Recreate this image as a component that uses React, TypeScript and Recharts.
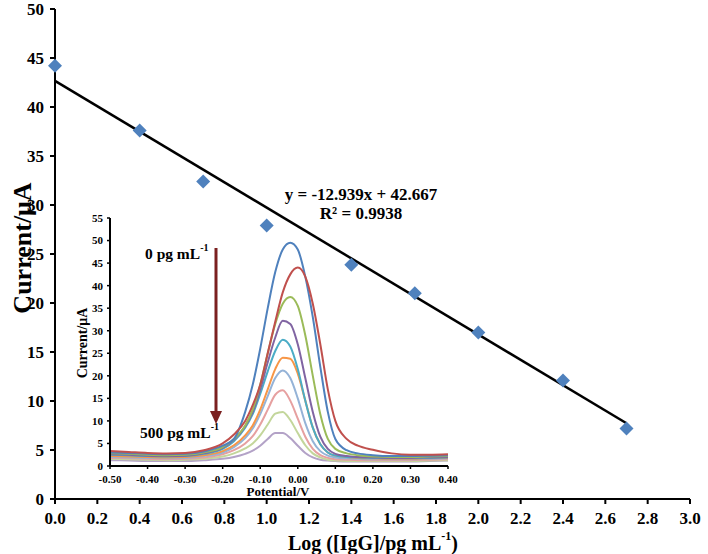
import React from 'react';
import { ScatterChart, Scatter, XAxis, YAxis, LineChart, Line } from 'recharts';

// ---------- main calibration data ----------
const logConc = [0, 0.4, 0.7, 1.0, 1.4, 1.7, 2.0, 2.4, 2.7];
const currents = [44.2, 37.6, 32.4, 27.9, 23.9, 21.0, 17.0, 12.1, 7.2];
const mainXTicks = [0, 0.2, 0.4, 0.6, 0.8, 1.0, 1.2, 1.4, 1.6, 1.8, 2.0, 2.2, 2.4, 2.6, 2.8, 3.0];
const mainYTicks = [0, 5, 10, 15, 20, 25, 30, 35, 40, 45, 50];
const slope = -12.939;
const intercept = 42.667;
const trendEnds = [0, 2.7];

// ---------- inset DPV data ----------
const potentials = [-0.5, -0.45, -0.4, -0.35, -0.3, -0.25, -0.2, -0.17, -0.14, -0.12, -0.1, -0.08, -0.06, -0.04, -0.02, 0.0, 0.02, 0.04, 0.06, 0.08, 0.1, 0.13, 0.16, 0.2, 0.25, 0.3, 0.35, 0.4];
const curveBlue = [3.0, 2.9, 2.7, 2.6, 2.7, 3.2, 4.5, 6.0, 12.0, 18.0, 26.0, 35.0, 43.0, 48.0, 49.5, 48.0, 42.0, 33.0, 22.0, 12.0, 6.0, 3.5, 2.8, 2.4, 2.2, 2.2, 2.3, 2.4];
const curveRed = [3.3, 3.1, 2.9, 2.8, 2.9, 3.5, 5.0, 7.0, 10.0, 13.5, 18.0, 25.0, 32.0, 38.5, 42.5, 44.0, 42.0, 36.0, 27.0, 17.0, 10.0, 6.0, 4.5, 3.6, 2.8, 2.5, 2.5, 2.6];
const curveGreen = [2.8, 2.7, 2.5, 2.4, 2.5, 3.0, 4.2, 6.0, 9.0, 12.5, 18.0, 25.0, 31.5, 36.0, 37.5, 35.5, 29.0, 20.0, 11.5, 6.0, 3.8, 2.8, 2.4, 2.1, 2.0, 2.0, 2.1, 2.2];
const curvePurple = [2.6, 2.5, 2.3, 2.2, 2.3, 2.8, 4.0, 5.8, 8.8, 12.0, 17.0, 23.0, 28.5, 32.2, 31.5, 27.0, 19.5, 12.0, 6.5, 3.8, 2.7, 2.2, 2.0, 1.9, 1.8, 1.8, 1.9, 2.0];
const curveTeal = [2.5, 2.4, 2.2, 2.1, 2.2, 2.7, 3.8, 5.5, 8.5, 11.5, 16.0, 21.0, 25.5, 28.0, 26.5, 21.5, 14.5, 8.5, 4.8, 3.0, 2.3, 2.0, 1.9, 1.8, 1.7, 1.7, 1.8, 1.9];
const curveOrange = [2.2, 2.1, 2.0, 1.9, 2.0, 2.4, 3.3, 4.6, 6.8, 9.0, 12.5, 17.0, 21.5, 24.0, 23.8, 20.5, 14.5, 8.5, 4.8, 3.0, 2.3, 2.0, 1.8, 1.7, 1.6, 1.6, 1.7, 1.8];
const curveLightBlue = [2.0, 1.9, 1.8, 1.7, 1.8, 2.2, 3.0, 4.2, 6.2, 8.3, 11.5, 15.5, 19.5, 21.2, 19.5, 15.0, 9.5, 5.5, 3.3, 2.3, 1.9, 1.7, 1.6, 1.5, 1.5, 1.5, 1.6, 1.7];
const curvePink = [1.8, 1.7, 1.6, 1.5, 1.6, 1.9, 2.6, 3.5, 5.0, 6.6, 9.2, 12.5, 15.8, 16.8, 14.5, 10.5, 6.5, 3.8, 2.4, 1.8, 1.5, 1.4, 1.3, 1.3, 1.3, 1.3, 1.4, 1.5];
const curveLightGreen = [1.6, 1.5, 1.4, 1.3, 1.4, 1.6, 2.1, 2.8, 3.9, 5.0, 6.8, 9.2, 11.6, 12.0, 10.2, 7.3, 4.6, 2.8, 1.9, 1.4, 1.2, 1.1, 1.1, 1.1, 1.1, 1.1, 1.2, 1.3];
const curveLavender = [1.3, 1.2, 1.1, 1.1, 1.1, 1.3, 1.6, 2.0, 2.7, 3.4, 4.5, 6.0, 7.3, 7.3, 6.2, 4.5, 2.9, 1.9, 1.4, 1.2, 1.1, 1.0, 1.0, 1.0, 1.0, 1.0, 1.1, 1.2];
const insetXTicks = [-0.5, -0.4, -0.3, -0.2, -0.1, 0.0, 0.1, 0.2, 0.3, 0.4];
const insetYTicks = [0, 5, 10, 15, 20, 25, 30, 35, 40, 45, 50, 55];

const curves = [
  { key: 'lavender', values: curveLavender, color: '#b3a2c7' },
  { key: 'lightgreen', values: curveLightGreen, color: '#c3d69b' },
  { key: 'pink', values: curvePink, color: '#e6a0a0' },
  { key: 'lightblue', values: curveLightBlue, color: '#95b3d7' },
  { key: 'orange', values: curveOrange, color: '#f79646' },
  { key: 'teal', values: curveTeal, color: '#4bacc6' },
  { key: 'purple', values: curvePurple, color: '#8064a2' },
  { key: 'green', values: curveGreen, color: '#9bbb59' },
  { key: 'blue', values: curveBlue, color: '#4f81bd' },
  { key: 'red', values: curveRed, color: '#c0504d' },
];

const mainData = logConc.map((x, i) => ({ x, y: currents[i] }));
const trendData = trendEnds.map((x) => ({ x, y: slope * x + intercept }));
const insetData = potentials.map((p, i) => {
  const row: Record<string, number> = { p };
  curves.forEach((c) => { row[c.key] = c.values[i]; });
  return row;
});

const FONT = "'Liberation Serif', 'Times New Roman', serif";

const Diamond = (props: any) => {
  const { cx, cy } = props;
  if (cx == null || cy == null) return <g />;
  const r = 7;
  return <polygon points={`${cx},${cy - r} ${cx + r},${cy} ${cx},${cy + r} ${cx - r},${cy}`} fill="#4f81bd" />;
};

export default function App() {
  return (
    <div style={{ position: 'absolute', left: 0, top: 0, width: 708, height: 554, background: '#fff', overflow: 'hidden' }}>
      <div style={{ position: 'absolute', left: 0, top: 0 }}>
        <ScatterChart width={708} height={554} margin={{ top: 9, right: 18, bottom: 0, left: 0 }}>
          <XAxis
            type="number"
            dataKey="x"
            domain={[0, 3]}
            ticks={mainXTicks}
            tickFormatter={(v: number) => v.toFixed(1)}
            height={55}
            axisLine={{ stroke: '#000', strokeWidth: 2 }}
            tickLine={{ stroke: '#000', strokeWidth: 2 }}
            tickSize={5}
            tickMargin={8}
            tick={{ fill: '#000', fontSize: 17, fontWeight: 'bold', fontFamily: FONT }}
            interval={0}
          />
          <YAxis
            type="number"
            dataKey="y"
            domain={[0, 50]}
            ticks={mainYTicks}
            width={55}
            axisLine={{ stroke: '#000', strokeWidth: 2 }}
            tickLine={{ stroke: '#000', strokeWidth: 2 }}
            tickSize={5}
            tickMargin={6}
            tick={{ fill: '#000', fontSize: 17, fontWeight: 'bold', fontFamily: FONT }}
            interval={0}
          />
          <Scatter data={trendData} line={{ stroke: '#000', strokeWidth: 2.5 }} lineType="joint" shape={() => <g />} isAnimationActive={false} />
          <Scatter data={mainData} shape={Diamond} isAnimationActive={false} />
        </ScatterChart>
      </div>

      <div style={{ position: 'absolute', left: 60, top: 205 }}>
        <LineChart width={410} height={300} data={insetData} margin={{ top: 13, right: 22, bottom: 0, left: 0 }}>
          <XAxis
            type="number"
            dataKey="p"
            domain={[-0.5, 0.4]}
            ticks={insetXTicks}
            tickFormatter={(v: number) => v.toFixed(2)}
            height={39}
            axisLine={{ stroke: '#000', strokeWidth: 2 }}
            tickLine={{ stroke: '#000', strokeWidth: 1.5 }}
            tickSize={3}
            tickMargin={6}
            tick={{ fill: '#000', fontSize: 11, fontWeight: 'bold', fontFamily: FONT }}
            interval={0}
          />
          <YAxis
            type="number"
            domain={[0, 55]}
            ticks={insetYTicks}
            width={50}
            axisLine={{ stroke: '#000', strokeWidth: 2 }}
            tickLine={{ stroke: '#000', strokeWidth: 1.5 }}
            tickSize={3}
            tickMargin={4}
            tick={{ fill: '#000', fontSize: 11, fontWeight: 'bold', fontFamily: FONT }}
            interval={0}
          />
          {curves.map((c) => (
            <Line key={c.key} type="monotone" dataKey={c.key} stroke={c.color} strokeWidth={2} dot={false} isAnimationActive={false} />
          ))}
        </LineChart>
      </div>

      <svg width={708} height={554} style={{ position: 'absolute', left: 0, top: 0, pointerEvents: 'none' }} fontFamily={FONT} fontWeight="bold">
        <text x={22} y={248} transform="rotate(-90 22 248)" textAnchor="middle" dominantBaseline="central" fontSize={26} fill="#000">Current/μA</text>
        <text x={373} y={543} textAnchor="middle" dominantBaseline="central" fontSize={20} fill="#000">
          Log ([IgG]/pg mL<tspan dy={-7} fontSize={12}>-1</tspan><tspan dy={7}>)</tspan>
        </text>
        <text x={361} y={194} textAnchor="middle" dominantBaseline="central" fontSize={17} fill="#000">y = -12.939x + 42.667</text>
        <text x={361} y={213} textAnchor="middle" dominantBaseline="central" fontSize={17} fill="#000">R² = 0.9938</text>
        <text x={82} y={343} transform="rotate(-90 82 343)" textAnchor="middle" dominantBaseline="central" fontSize={14} fill="#000">Current/μA</text>
        <text x={278} y={491} textAnchor="middle" dominantBaseline="central" fontSize={13} fill="#000">Potential/V</text>
        <text x={145} y={253} dominantBaseline="central" fontSize={15.5} fill="#000">
          0 pg mL<tspan dy={-6} fontSize={10}>-1</tspan>
        </text>
        <text x={140} y={432} dominantBaseline="central" fontSize={15.5} fill="#000">
          500 pg mL<tspan dy={-6} fontSize={10}>-1</tspan>
        </text>
        <line x1={216} y1={248} x2={216} y2={413} stroke="#7b2020" strokeWidth={3} />
        <polygon points="210,411 222,411 216,424" fill="#7b2020" />
      </svg>
    </div>
  );
}
